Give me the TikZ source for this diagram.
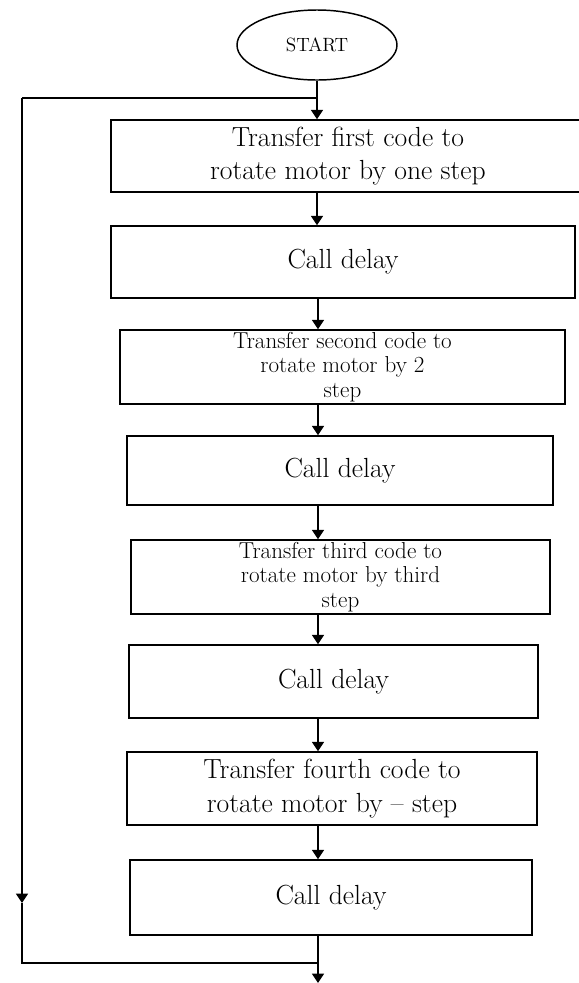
\documentclass[tikz,border=0pt]{standalone}
\usetikzlibrary{arrows.meta,shapes.geometric}

\tikzset{every picture/.style={line width=1.1pt}}
\tikzset{
  stepbox/.style={draw, rectangle, align=center, inner sep=1pt, font=\huge},
  startbox/.style={draw, ellipse, inner sep=0pt, minimum width=120pt, minimum height=52.5pt, font=\Large},
  flow/.style={-{Triangle[width=9pt,length=7pt]}}
}

\begin{document}
\begin{tikzpicture}[x=0.75pt,y=0.75pt,yscale=-1,xscale=1]
	\useasboundingbox (0,0) rectangle (579,983);
	
	%Shape: Ellipse [id:start]
	\node [startbox] (st) at (317,45) {START};
	
	%Shape: Rectangle [id:b1]
	\node [stepbox, minimum width=355.5pt, minimum height=54pt] (b1) at (348,156) {Transfer first code to\\ rotate motor by one step};
	%Shape: Rectangle [id:b2]
	\node [stepbox, minimum width=348pt, minimum height=54pt] (b2) at (343,262) {Call delay};
	%Shape: Rectangle [id:b3]
	\node [stepbox, font=\LARGE, inner sep=0pt, minimum width=333.75pt, minimum height=55.5pt] (b3) at (342.5,367) {Transfer second code to\\[-3.5pt] rotate motor by 2\\[-3.5pt] step};
	%Shape: Rectangle [id:b4]
	\node [stepbox, minimum width=319.5pt, minimum height=51.75pt] (b4) at (340,470.5) {Call delay};
	%Shape: Rectangle [id:b5]
	\node [stepbox, font=\LARGE, inner sep=0pt, minimum width=314.25pt, minimum height=55.5pt] (b5) at (340.5,577) {Transfer third code to\\[-3.5pt] rotate motor by third\\[-3.5pt] step};
	%Shape: Rectangle [id:b6]
	\node [stepbox, minimum width=306.75pt, minimum height=54.75pt] (b6) at (333.5,681.5) {Call delay};
	%Shape: Rectangle [id:b7]
	\node [stepbox, minimum width=307.5pt, minimum height=54.75pt] (b7) at (332,788.5) {Transfer fourth code to\\ rotate motor by -- step};
	%Shape: Rectangle [id:b8]
	\node [stepbox, minimum width=301.5pt, minimum height=56.25pt] (b8) at (331,897.5) {Call delay};
	
	%Loop corners
	\coordinate (tl) at (22,98);
	\coordinate (lm) at (22,903);
	\coordinate (bl) at (22,963);
	\coordinate (bj) at (318,963);
	\coordinate (ed) at (318,983);
	
	%Straight Lines [id:arrows]
	\draw [flow] (st.south) -- (b1.north -| st.south);
	\draw [flow] (b1.south -| st.south) -- (b2.north -| st.south);
	\draw [flow] (b2.south -| bj) -- (b3.north -| bj);
	\draw [flow] (b3.south -| bj) -- (b4.north -| bj);
	\draw [flow] (b4.south -| bj) -- (b5.north -| bj);
	\draw [flow] (b5.south -| bj) -- (b6.north -| bj);
	\draw [flow] (b6.south -| bj) -- (b7.north -| bj);
	\draw [flow] (b7.south -| bj) -- (b8.north -| bj);
	\draw (b8.south -| bj) -- (bj);
	\draw [flow] (bj) -- (ed);
	
	%Loop back
	\draw (bj) -- (bl) -- (lm);
	\draw [flow] (tl) -- (lm);
	\draw (tl) -- (tl -| st.south);
	
\end{tikzpicture}
\end{document}
